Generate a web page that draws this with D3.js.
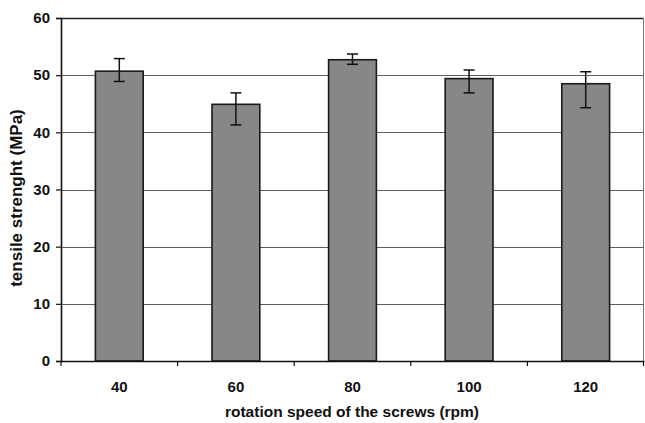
<!DOCTYPE html>
<html>
<head>
<meta charset="utf-8">
<script src="https://cdn.jsdelivr.net/npm/d3@7"></script>
<style>
  html, body { margin: 0; padding: 0; background: #fff; }
  svg { display: block; font-family: "Liberation Sans", Arial, sans-serif; }
</style>
</head>
<body>
<svg id="chart" width="645" height="423"></svg>
<script>
// rotation speed (rpm) vs tensile strength (MPa)
const speeds = ["40", "60", "80", "100", "120"]
const strength = [50.7, 44.9, 52.7, 49.4, 48.5]
const errHigh = [2.2, 2.0, 1.0, 1.5, 2.1]
const errLow = [1.8, 3.6, 0.8, 2.5, 4.2]
const yTicks = [0, 10, 20, 30, 40, 50, 60]

const width = 645, height = 423
const marginL = 61, marginR = 1, marginT = 18, marginB = 62

const svg = d3.select("#chart")

const xScale = d3.scaleBand()
    .domain(speeds)
    .range([marginL, width - marginR])
    .paddingInner(0.59)
    .paddingOuter(0.295)
const yScale = d3.scaleLinear().domain([0, 60]).range([height - marginB, marginT])

// grid lines
svg.append("g")
    .selectAll("line")
    .data(yTicks.filter(d => d > 0))
    .join("line")
    .attr("x1", marginL)
    .attr("x2", width - marginR)
    .attr("y1", d => Math.round(yScale(d)) + 0.5)
    .attr("y2", d => Math.round(yScale(d)) + 0.5)
    .attr("stroke", d => d == 60 ? "#222" : "#5e5e5e")
    .attr("stroke-width", d => d == 60 ? 1.5 : 1.1)

// right frame
svg.append("line")
    .attr("x1", width - marginR - 0.5).attr("x2", width - marginR - 0.5)
    .attr("y1", yScale(60)).attr("y2", yScale(0))
    .attr("stroke", "#777")

// bars
svg.append("g")
    .selectAll("rect")
    .data(speeds)
    .join("rect")
    .attr("x", d => xScale(d))
    .attr("width", xScale.bandwidth())
    .attr("y", (d, i) => yScale(strength[i]))
    .attr("height", (d, i) => yScale(0) - yScale(strength[i]))
    .attr("fill", "#878787")
    .attr("stroke", "#1a1a1a")
    .attr("stroke-width", 1.6)

// error bars
const errG = svg.append("g").attr("stroke", "#111").attr("stroke-width", 1.5)
speeds.forEach((d, i) => {
    const cx = xScale(d) + xScale.bandwidth() / 2
    const top = yScale(strength[i] + errHigh[i])
    const bot = yScale(strength[i] - errLow[i])
    errG.append("line").attr("x1", cx).attr("x2", cx).attr("y1", top).attr("y2", bot)
    errG.append("line").attr("x1", cx - 5.5).attr("x2", cx + 5.5).attr("y1", top).attr("y2", top)
    errG.append("line").attr("x1", cx - 5.5).attr("x2", cx + 5.5).attr("y1", bot).attr("y2", bot)
})

// y axis
const yAxis = d3.axisLeft(yScale).tickValues(yTicks).tickSizeOuter(0).tickSize(5).tickPadding(6)
const yAxisSVG = svg.append("g")
    .attr("transform", `translate(${marginL}, 0)`)
    .call(yAxis)
yAxisSVG.select(".domain").attr("stroke", "#111").attr("stroke-width", 1.6)
yAxisSVG.selectAll(".tick line").attr("stroke", "#111").attr("stroke-width", 1.2)
yAxisSVG.selectAll(".tick text")
    .attr("fill", "#111")
    .style("font-size", "15px")
    .style("font-weight", "bold")

// x axis: labels under bars, ticks on band edges
const xAxis = d3.axisBottom(xScale).tickSize(0).tickSizeOuter(0).tickPadding(20)
const xAxisSVG = svg.append("g")
    .attr("transform", `translate(0, ${yScale(0)})`)
    .call(xAxis)
xAxisSVG.select(".domain").attr("stroke", "#111").attr("stroke-width", 1.6)
xAxisSVG.selectAll(".tick text")
    .attr("fill", "#111")
    .style("font-size", "15px")
    .style("font-weight", "bold")

const edges = d3.range(speeds.length + 1).map(i => xScale.range()[0] + i * xScale.step())
svg.append("g")
    .selectAll("line")
    .data(edges)
    .join("line")
    .attr("x1", d => Math.min(d, width - 1.5))
    .attr("x2", d => Math.min(d, width - 1.5))
    .attr("y1", yScale(0))
    .attr("y2", yScale(0) + 5)
    .attr("stroke", "#111")
    .attr("stroke-width", 1.2)

// axis titles
svg.append("text")
    .text("rotation speed of the screws (rpm)")
    .attr("x", 352)
    .attr("y", 417)
    .attr("text-anchor", "middle")
    .attr("fill", "#111")
    .style("font-size", "15.5px")
    .style("font-weight", "bold")
svg.append("text")
    .text("tensile strenght (MPa)")
    .attr("transform", "translate(22, 198) rotate(-90)")
    .attr("text-anchor", "middle")
    .attr("fill", "#111")
    .style("font-size", "17px")
    .style("font-weight", "bold")
</script>
</body>
</html>
